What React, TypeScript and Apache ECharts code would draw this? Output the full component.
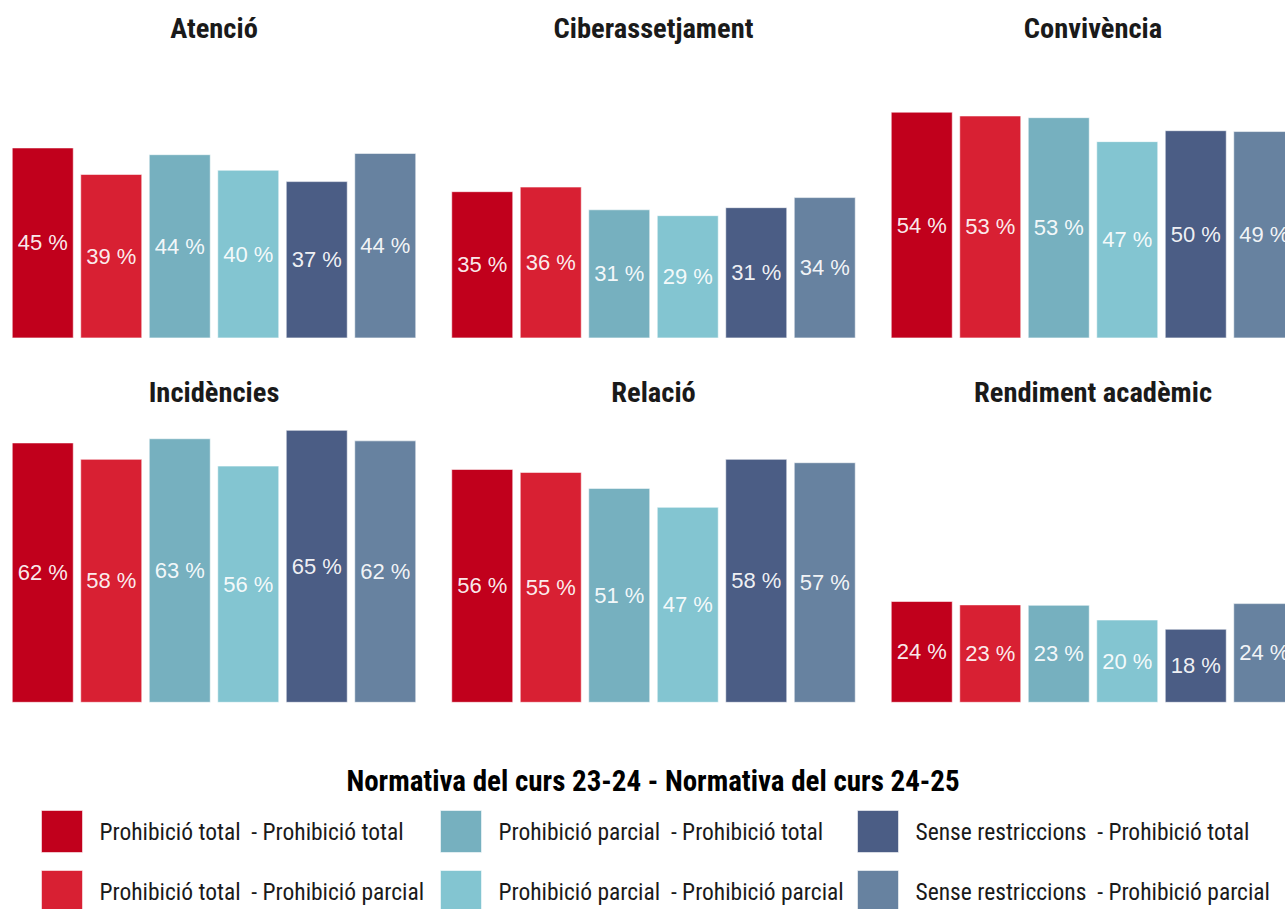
import React, { useEffect, useRef } from "react";
import * as echarts from "echarts";

const facets = ["Atenció", "Ciberassetjament", "Convivència", "Incidències", "Relació", "Rendiment acadèmic"];
const groups = [
  "Prohibició total  - Prohibició total",
  "Prohibició total  - Prohibició parcial",
  "Prohibició parcial  - Prohibició total",
  "Prohibició parcial  - Prohibició parcial",
  "Sense restriccions  - Prohibició total",
  "Sense restriccions  - Prohibició parcial",
];
const atencio = [45.4, 39.1, 43.8, 40.1, 37.4, 44.1];
const ciberassetjament = [35.0, 36.1, 30.7, 29.3, 31.2, 33.6];
const convivencia = [53.9, 53.0, 52.6, 46.9, 49.5, 49.3];
const incidencies = [61.9, 58.0, 62.9, 56.4, 64.9, 62.4];
const relacio = [55.6, 54.9, 51.1, 46.6, 58.0, 57.2];
const rendiment = [24.2, 23.4, 23.3, 19.8, 17.6, 23.7];
const facetValues = [atencio, ciberassetjament, convivencia, incidencies, relacio, rendiment];
const colors = ["#c1001c", "#d82033", "#76b0bf", "#83c5d1", "#4b5d85", "#6782a0"];
const legendTitle = "Normativa del curs 23-24 - Normativa del curs 24-25";

const COND = "'Roboto Condensed', 'Liberation Sans Narrow', 'DejaVu Sans Condensed', Roboto, sans-serif";

export default function App() {
  const ref = useRef<HTMLDivElement>(null);
  useEffect(() => {
    if (!ref.current) return;
    const chart = echarts.init(ref.current, undefined, { renderer: "svg" });
    const colLeft = [8.5, 448, 887.5];
    const rowTop = [44, 408.4];
    const titleY = [28, 392];
    const gw = 411;
    const gh = 294.4;
    const grids: any[] = [];
    const xAxes: any[] = [];
    const yAxes: any[] = [];
    const titles: any[] = [];
    const series: any[] = [];
    facets.forEach((f, fi) => {
      const c = fi % 3;
      const r = Math.floor(fi / 3);
      grids.push({ left: colLeft[c], top: rowTop[r], width: gw, height: gh, containLabel: false });
      xAxes.push({ type: "category", gridIndex: fi, data: groups, show: false });
      yAxes.push({ type: "value", gridIndex: fi, min: 0, max: 70, show: false });
      titles.push({
        text: f,
        left: colLeft[c] + gw / 2,
        top: titleY[r],
        textAlign: "center",
        textVerticalAlign: "middle",
        padding: 0,
        textStyle: { fontFamily: COND, fontSize: 28.5, fontWeight: "bold", color: "#1a1a1a" },
      });
      groups.forEach((g, gi) => {
        const data = groups.map((_, k) => (k === gi ? facetValues[fi][gi] : null));
        series.push({
          type: "bar",
          name: g,
          xAxisIndex: fi,
          yAxisIndex: fi,
          stack: "s" + fi,
          barCategoryGap: "9.5%",
          data,
          itemStyle: { color: colors[gi], borderColor: "rgba(255,255,255,0.55)", borderWidth: 1 },
          label: {
            show: true,
            position: "inside",
            formatter: (p: any) => (p.value == null ? "" : Math.round(p.value) + " %"),
            color: "rgba(255,255,255,0.93)",
            fontSize: 22,
            fontFamily: "'Liberation Sans', Arial, sans-serif",
          },
        });
      });
    });
    titles.push({
      text: legendTitle,
      left: 653,
      top: 781,
      textAlign: "center",
      textVerticalAlign: "middle",
      padding: 0,
      textStyle: { fontFamily: COND, fontSize: 29, fontWeight: "bold", color: "#000" },
    });
    const legendLefts = [41, 440, 857];
    const legendTops = [810, 870];
    const legends = groups.map((g, gi) => ({
      orient: "vertical",
      left: legendLefts[Math.floor(gi / 2)],
      top: legendTops[gi % 2],
      padding: 0,
      itemWidth: 41,
      itemHeight: 42,
      icon: "rect",
      selectedMode: false,
      data: [g],
      itemStyle: { borderColor: "rgba(255,255,255,0.55)", borderWidth: 1 },
      textStyle: { fontFamily: COND, fontSize: 23.5, color: "#1a1a1a", padding: [0, 0, 0, 12] },
    }));
    chart.setOption({
      animation: false,
      backgroundColor: "#ffffff",
      title: titles,
      grid: grids,
      xAxis: xAxes,
      yAxis: yAxes,
      legend: legends,
      series,
    });
    return () => chart.dispose();
  }, []);
  return (
    <div
      style={{ position: "absolute", left: 0, top: 0, width: 1285, height: 909, overflow: "hidden", background: "#fff" }}
    >
      <div ref={ref} style={{ width: 1320, height: 909 }} />
    </div>
  );
}
